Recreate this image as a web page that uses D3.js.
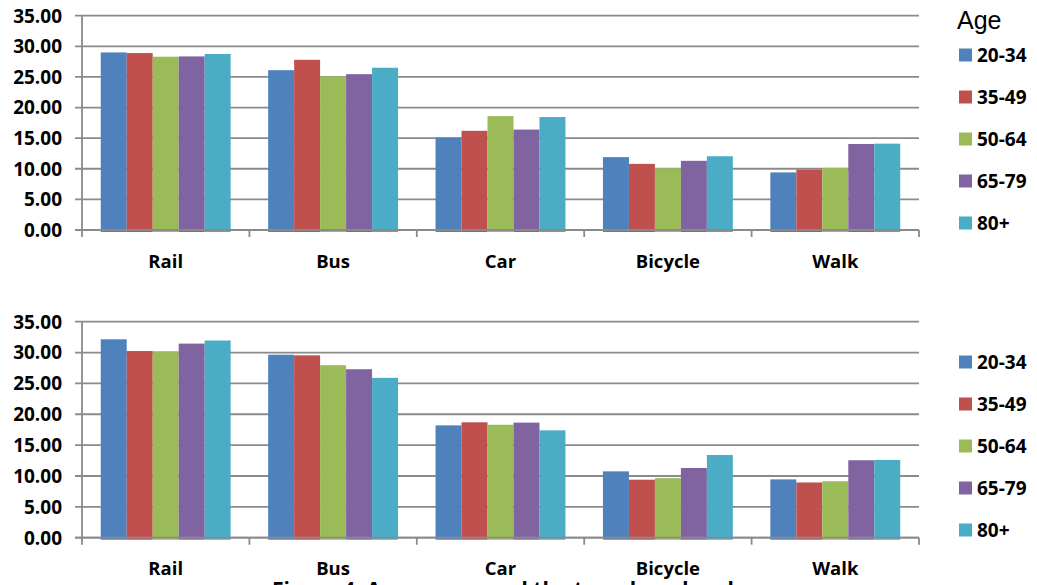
<!DOCTYPE html>
<html>
<head>
<meta charset="utf-8">
<script src="https://cdn.jsdelivr.net/npm/d3@7"></script>
<style>
  html, body { margin: 0; padding: 0; background: #fff; }
  svg { display: block; }
  text { font-family: "Open Sans", "DejaVu Sans", sans-serif; font-weight: 700; fill: #000; }
</style>
</head>
<body>
<svg id="chart" width="1037" height="585"></svg>
<script>
// Travel modes and age groups
const modes = ["Rail", "Bus", "Car", "Bicycle", "Walk"];
const ageGroups = ["20-34", "35-49", "50-64", "65-79", "80+"];
const yTicks = [0, 5, 10, 15, 20, 25, 30, 35];
const ageColors = ["#4F81BD", "#C0504D", "#9BBB59", "#8064A2", "#4BACC6"];

// Upper panel: one row per mode, one value per age group
const upperValues = [
  [29.0, 28.9, 28.3, 28.35, 28.75],
  [26.1, 27.8, 25.1, 25.45, 26.5],
  [15.1, 16.2, 18.6, 16.4, 18.45],
  [11.9, 10.8, 10.1, 11.3, 12.05],
  [9.4, 9.85, 10.15, 14.05, 14.1]
];
// Lower panel
const lowerValues = [
  [32.15, 30.25, 30.2, 31.45, 31.95],
  [29.65, 29.55, 27.95, 27.3, 25.9],
  [18.2, 18.7, 18.3, 18.65, 17.4],
  [10.75, 9.4, 9.65, 11.3, 13.4],
  [9.45, 8.95, 9.15, 12.55, 12.6]
];

const caption = "Figure 4: Age groups and the travel modes chosen";

const svg = d3.select("#chart");
const gridColor = "#8a8a8a";

function drawPanel(values, yBottom, yTop, labelBaseline, legendTop, showTitle) {
  const g = svg.append("g");
  const x = d3.scaleBand().domain(modes).range([82, 919])
    .paddingInner(0.224).paddingOuter(0.112);
  const xAge = d3.scaleBand().domain(ageGroups).range([0, x.bandwidth()]);
  const y = d3.scaleLinear().domain([0, 35]).range([yBottom, yTop]);

  // horizontal gridlines with short outward ticks
  g.append("g").selectAll("line").data(yTicks).join("line")
    .attr("x1", 75).attr("x2", 919)
    .attr("y1", d => y(d)).attr("y2", d => y(d))
    .attr("stroke", gridColor).attr("stroke-width", 1.8);

  // y tick labels
  g.append("g").selectAll("text").data(yTicks).join("text")
    .attr("x", 62).attr("y", d => y(d)).attr("dy", "0.36em")
    .attr("text-anchor", "end").style("font-size", "19px")
    .text(d => d3.format(".2f")(d));

  // bars
  const groups = g.append("g").selectAll("g").data(modes).join("g")
    .attr("transform", m => `translate(${x(m)},0)`);
  groups.selectAll("rect")
    .data((m, i) => values[i].map((v, j) => ({ age: ageGroups[j], v, c: ageColors[j] })))
    .join("rect")
    .attr("x", d => xAge(d.age)).attr("width", xAge.bandwidth())
    .attr("y", d => y(d.v)).attr("height", d => y(0) - y(d.v) + 2)
    .attr("fill", d => d.c);

  // baseline, left axis and category separators
  g.append("line").attr("x1", 75).attr("x2", 919)
    .attr("y1", y(0)).attr("y2", y(0))
    .attr("stroke", gridColor).attr("stroke-width", 1.8);
  g.append("line").attr("x1", 82).attr("x2", 82)
    .attr("y1", y(35)).attr("y2", y(0) + 7)
    .attr("stroke", gridColor).attr("stroke-width", 1.8);
  const bounds = modes.map(m => x(m) + x.bandwidth() + x.step() * x.paddingInner() / 2);
  g.append("g").selectAll("line").data(bounds).join("line")
    .attr("x1", d => d).attr("x2", d => d)
    .attr("y1", y(0)).attr("y2", y(0) + 7)
    .attr("stroke", gridColor).attr("stroke-width", 1.8);

  // category labels
  g.append("g").selectAll("text").data(modes).join("text")
    .attr("x", m => x(m) + x.bandwidth() / 2).attr("y", labelBaseline)
    .attr("text-anchor", "middle").style("font-size", "18.5px")
    .text(m => m);

  // legend
  const ly = d3.scalePoint().domain(ageGroups).range([legendTop, legendTop + 168]);
  if (showTitle) {
    g.append("text").attr("x", 957).attr("y", 29)
      .style("font-family", "'Liberation Sans', Arial, sans-serif")
      .style("font-weight", 400).style("font-size", "25px").text("Age");
  }
  const items = g.append("g").selectAll("g").data(ageGroups).join("g")
    .attr("transform", a => `translate(0,${ly(a)})`);
  items.append("rect").attr("x", 959).attr("y", -6.5)
    .attr("width", 13).attr("height", 13)
    .attr("fill", (a, i) => ageColors[i]);
  items.append("text").attr("x", 977).attr("dy", "0.36em")
    .style("font-size", "19px").text(a => a);
}

drawPanel(upperValues, 230, 15.7, 268, 55, true);
drawPanel(lowerValues, 537.7, 321.7, 575, 362, false);

// figure caption, partly below the visible area
svg.append("text").attr("x", 272).attr("y", 597)
  .style("font-size", "21px").text(caption);
</script>
</body>
</html>
